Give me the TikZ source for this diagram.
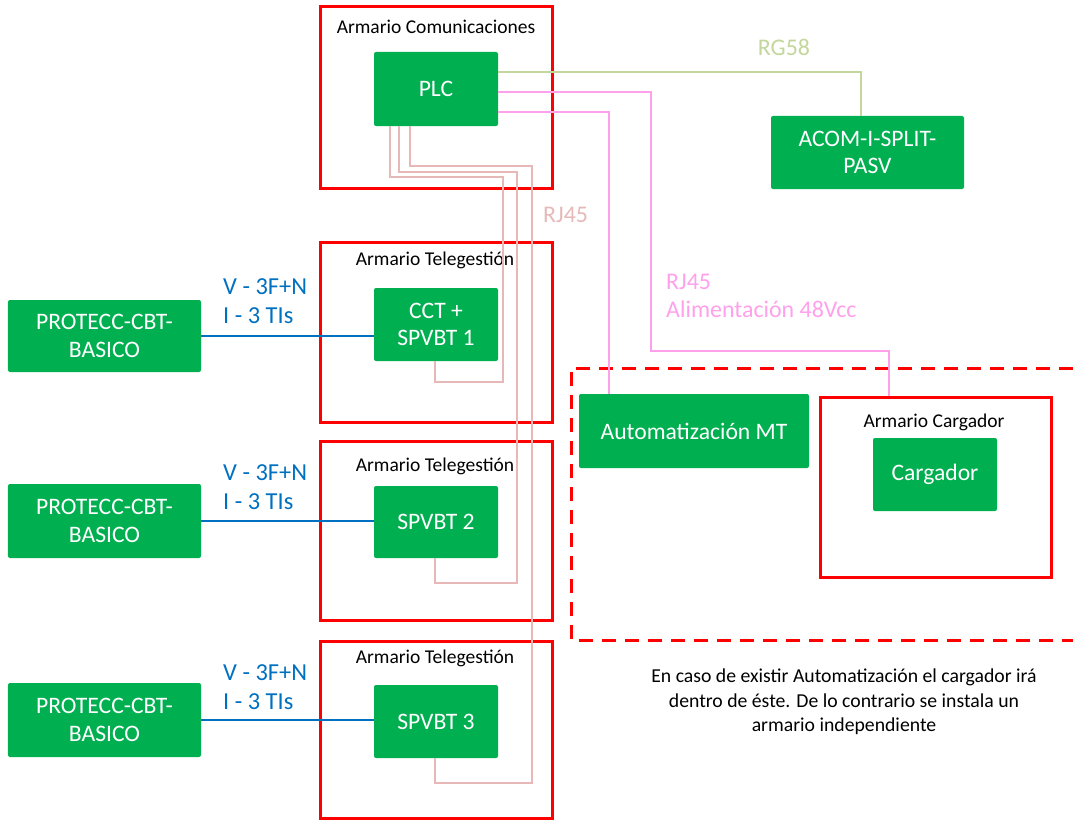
\documentclass[tikz,border=0pt]{standalone}
\usepackage{fontspec}
\setmainfont{Carlito}
\usetikzlibrary{calc}
\definecolor{boxgreen}{RGB}{0,176,80}
\definecolor{cabred}{RGB}{255,0,0}
\definecolor{linblue}{RGB}{0,112,192}
\definecolor{rgcol}{RGB}{195,214,155}
\definecolor{rjbrown}{RGB}{230,185,184}
\definecolor{rjpink}{RGB}{255,160,235}
\begin{document}
\begin{tikzpicture}[x=1bp,y=-1bp,
  sz/.style 2 args={minimum width=#1bp, minimum height=#2bp},
  gbox/.style={fill=boxgreen, text=white, rounded corners=2bp, inner sep=0pt, align=center, font=\fontsize{23.7}{27.5}\selectfont},
  cab/.style={draw=cabred, line width=3bp, inner sep=0pt},
  cablabel/.style={font=\fontsize{19.6}{23}\selectfont, text=black, inner sep=0pt},
  bluelbl/.style={font=\fontsize{24.5}{29}\selectfont, text=linblue, align=left, anchor=west, inner sep=0pt},
  bluewire/.style={draw=linblue, line width=2bp},
  rgwire/.style={draw=rgcol, line width=1.2bp},
  pkwire/.style={draw=rjpink, line width=2bp},
  brwire/.style={draw=rjbrown, line width=2bp},
]
\useasboundingbox (0,0) rectangle (1073,820);

% cabinets
\node[cab, sz={232}{181}] (armcom) at (436,97.5) {};
\node[cab, sz={232}{180}] (arm1) at (436,332) {};
\node[cab, sz={232}{179}] (arm2) at (436,530.5) {};
\node[cab, sz={232}{177}] (arm3) at (436,729.5) {};
\node[cab, sz={231}{180}] (armcarg) at (935.5,487) {};

\node[cablabel] (lcom) at (436,27) {Armario Comunicaciones};
\node[cablabel] (lt1) at (435,260) {Armario Telegestión};
\node[cablabel] (lt2) at (435,466) {Armario Telegestión};
\node[cablabel] (lt3) at (435,658) {Armario Telegestión};
\node[cablabel] (lcarg) at (934,422) {Armario Cargador};

% dashed area
\draw[cabred, line width=3bp, dash pattern=on 14bp off 9bp] (1073,368) -- (571,368) -- (571,640) -- (1073,640);

% green boxes
\node[gbox, sz={124}{74}] (PLC) at (436,89) {PLC};
\node[gbox, sz={193}{73}] (ACOM) at (867.5,152.5) {ACOM-I-SPLIT-\\PASV};
\node[gbox, sz={124}{73}] (CCT) at (436,324.5) {CCT +\\SPVBT 1};
\node[gbox, sz={124}{72}] (S2) at (436,522) {SPVBT 2};
\node[gbox, sz={124}{73}] (S3) at (436,721.5) {SPVBT 3};
\node[gbox, sz={193}{72}] (P1) at (104.5,336) {PROTECC-CBT-\\BASICO};
\node[gbox, sz={193}{74}] (P2) at (104.5,521) {PROTECC-CBT-\\BASICO};
\node[gbox, sz={193}{74}] (P3) at (104.5,720) {PROTECC-CBT-\\BASICO};
\node[gbox, sz={230}{74}] (AMT) at (694,431) {Automatización MT};
\node[gbox, sz={124}{73}] (carg) at (935,474.5) {Cargador};

% blue wires
\draw[bluewire] (P1.east) -- (P1.east -| CCT.west);
\draw[bluewire] (P2.east) -- (P2.east -| S2.west);
\draw[bluewire] (P3.east) -- (P3.east -| S3.west);
\node[bluelbl] (b1) at (223,301.5) {V - 3F+N\\I - 3 TIs};
\node[bluelbl] (b2) at (223,487.5) {V - 3F+N\\I - 3 TIs};
\node[bluelbl] (b3) at (223,687) {V - 3F+N\\I - 3 TIs};

% RG58
\draw[rgwire] ($(PLC.east)+(0,-17)$) -| ($(ACOM.north)+(-6.5,0)$);
\node[font=\fontsize{24}{28}\selectfont, text=rgcol, inner sep=0pt] (lrg) at (784,47) {RG58};

% pink wires
\draw[pkwire] ($(PLC.east)+(0,3)$) -| (651,351) -| ($(armcarg.north)+(-46.5,0)$);
\draw[pkwire] ($(PLC.east)+(0,23)$) -| ($(AMT.north)+(-85,0)$);
\node[font=\fontsize{24}{28}\selectfont, text=rjpink, align=left, anchor=west, inner sep=0pt] (lpk) at (666,296) {RJ45\\Alimentación 48Vcc};

% brown RJ45 wires
\draw[brwire] ($(PLC.south)+(-46,0)$) |- (503,177) |- (435,382) -- ($(CCT.south)+(-1,0)$);
\draw[brwire] ($(PLC.south)+(-37,0)$) |- (517,172) |- (435,583) -- ($(S2.south)+(-1,0)$);
\draw[brwire] ($(PLC.south)+(-26,0)$) |- (532,166) |- (435,783) -- ($(S3.south)+(-1,0)$);
\node[font=\fontsize{24}{28}\selectfont, text=rjbrown, anchor=west, inner sep=0pt] (lrj) at (543,215) {RJ45};

% note
\node[font=\fontsize{19.8}{24.5}\selectfont, align=center, inner sep=0pt] (note) at (844,702) {En caso de existir Automatización el cargador irá\\dentro de éste. De lo contrario se instala un\\armario independiente};
\end{tikzpicture}
\end{document}
